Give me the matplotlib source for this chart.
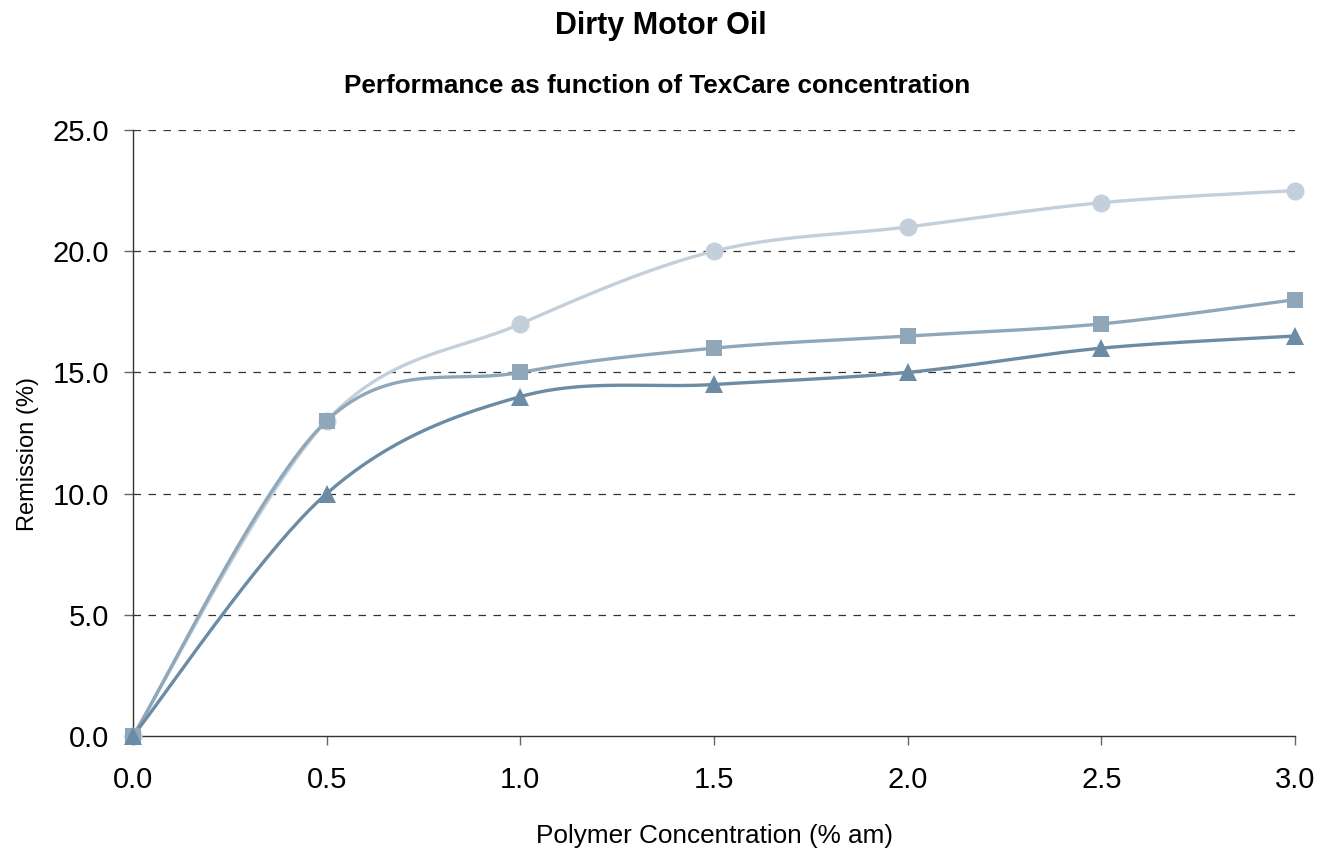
import numpy as np
import matplotlib
matplotlib.use('Agg')
import matplotlib.pyplot as plt

# data
conc = [0.0, 0.5, 1.0, 1.5, 2.0, 2.5, 3.0]
series_circle = [0.0, 13.0, 17.0, 20.0, 21.0, 22.0, 22.5]
series_square = [0.0, 13.0, 15.0, 16.0, 16.5, 17.0, 18.0]
series_triangle = [0.0, 10.0, 14.0, 14.5, 15.0, 16.0, 16.5]
y_ticks = [0.0, 5.0, 10.0, 15.0, 20.0, 25.0]
x_ticks = [0.0, 0.5, 1.0, 1.5, 2.0, 2.5, 3.0]

FONT = ['Liberation Sans', 'DejaVu Sans']


def smooth(x, y, n=40):
    # Excel style smoothed line: cubic bezier, control points from neighbours
    x = np.asarray(x, float)
    y = np.asarray(y, float)
    pts = np.column_stack([x, y])
    out = []
    for i in range(len(pts) - 1):
        p0 = pts[i - 1] if i > 0 else pts[i]
        p1 = pts[i]
        p2 = pts[i + 1]
        p3 = pts[i + 2] if i + 2 < len(pts) else pts[i + 1]
        c1 = p1 + (p2 - p0) / 6.0
        c2 = p2 - (p3 - p1) / 6.0
        t = np.linspace(0, 1, n)[:, None]
        seg = ((1 - t) ** 3) * p1 + 3 * ((1 - t) ** 2) * t * c1 + 3 * (1 - t) * t ** 2 * c2 + t ** 3 * p2
        out.append(seg if i == 0 else seg[1:])
    seg = np.vstack(out)
    return seg[:, 0], seg[:, 1]


fig = plt.figure(figsize=(13.31, 8.59), dpi=100)
ax = fig.add_axes([0.0999, 0.1432, 0.8731, 0.7055])

styles = [
    (series_circle, '#C3D0DB', 'o', 13),
    (series_square, '#8FA7B9', 's', 12),
    (series_triangle, '#6B8CA4', '^', 13),
]
for vals, col, mk, ms in styles:
    sx, sy = smooth(conc, vals)
    ax.plot(sx, sy, color=col, lw=2.4, clip_on=False, zorder=3, solid_capstyle='round')
    ax.plot(conc, vals, linestyle='none', marker=mk, markersize=ms, color=col,
            markeredgewidth=0, clip_on=False, zorder=4)

ax.set_xlim(0, 3)
ax.set_ylim(0, 25)
ax.set_xticks(x_ticks)
ax.set_yticks(y_ticks)
ax.set_xticklabels([f'{v:.1f}' for v in x_ticks], fontsize=21, family=FONT)
ax.set_yticklabels([f'{v:.1f}' for v in y_ticks], fontsize=21, family=FONT)
ax.tick_params(axis='both', direction='out', length=6.5, width=1, color='#666666')
ax.tick_params(axis='y', pad=10.5)
ax.tick_params(axis='x', pad=15)

for y in y_ticks[1:]:
    ax.axhline(y, color='#333333', lw=0.9, ls=(0, (6, 6)), zorder=1)

for s in ['top', 'right']:
    ax.spines[s].set_visible(False)
for s in ['left', 'bottom']:
    ax.spines[s].set_color('#333333')
    ax.spines[s].set_linewidth(1.0)

ax.set_xlabel('Polymer Concentration (% am)', fontsize=18.8, family=FONT, labelpad=22)
ax.set_ylabel('Remission (%)', fontsize=17, family=FONT)
ax.yaxis.set_label_coords(-0.081, 0.465)

fig.text(0.4966, 0.970, 'Dirty Motor Oil', ha='center', va='center',
         fontsize=22, fontweight='bold', family=FONT)
fig.text(0.4936, 0.900, 'Performance as function of TexCare concentration', ha='center',
         va='center', fontsize=18.8, fontweight='bold', family=FONT)

fig.savefig('out.png', dpi=100)
